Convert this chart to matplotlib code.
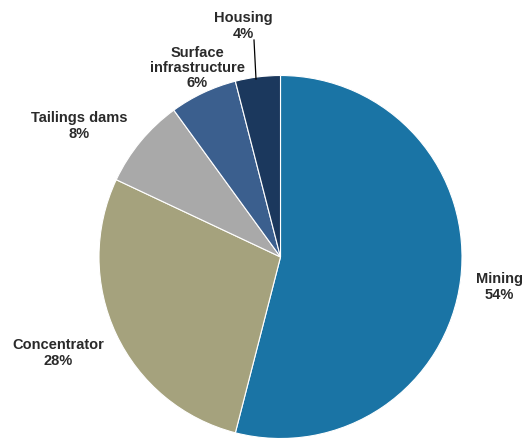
import matplotlib
matplotlib.use("Agg")
import matplotlib.pyplot as plt

plt.rcParams['font.family'] = ['Liberation Sans', 'DejaVu Sans']

# data
labels = ['Mining', 'Concentrator', 'Tailings dams', 'Surface\ninfrastructure', 'Housing']
shares = [54, 28, 8, 6, 4]
colors = ['#1a74a5', '#a5a27d', '#a9a9a9', '#3b5f8e', '#1b385d']

# label positions in pixel coords (y from top)
label_xy = [(499, 287), (58, 353), (79, 126), (197, 68), (243, 26)]

W, H = 525, 439
fig = plt.figure(figsize=(W / 100, H / 100), dpi=100)
ax = fig.add_axes([0, 0, 1, 1])

cx, cy, r = 280.5, H - 258, 181.5
ax.pie(shares, colors=colors, startangle=90, counterclock=False,
       center=(cx, cy), radius=r, frame=True,
       wedgeprops=dict(edgecolor='white', linewidth=0.8))
ax.set_xlim(0, W)
ax.set_ylim(0, H)
ax.set_aspect('equal')
ax.axis('off')

for lab, val, (x, y) in zip(labels, shares, label_xy):
    ax.text(x, H - y, '{}\n{}%'.format(lab, val), ha='center', va='center',
            fontsize=10.5, fontweight='bold', color='#2a2a2a', linespacing=1.1)

# leader line for Housing
ax.plot([254, 256], [H - 41, H - 80], color='black', lw=0.9)

plt.savefig('out.png', dpi=100)
